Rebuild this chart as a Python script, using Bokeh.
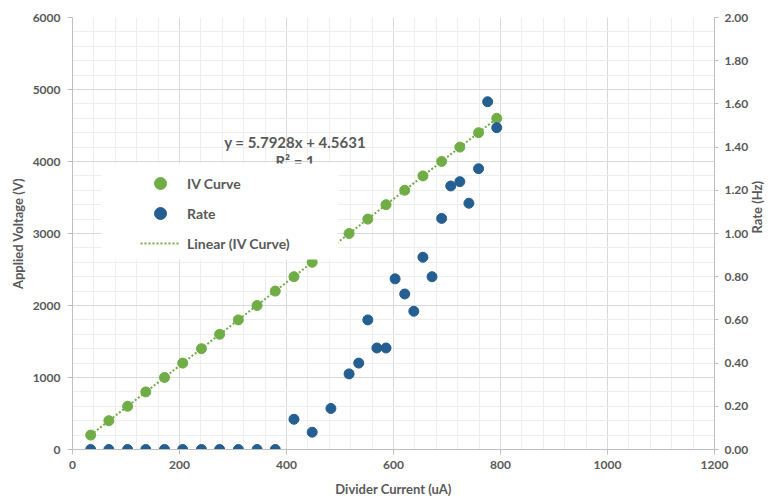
import math
from bokeh.plotting import figure
from bokeh.models import (Range1d, LinearAxis, SingleIntervalTicker, NumeralTickFormatter,
                          Label, BoxAnnotation, Legend, LegendItem)
from bokeh.embed import file_html
from bokeh.resources import INLINE

# ---- data ----
iv_current = [34, 68, 103, 137, 172, 206, 241, 275, 310, 345, 379, 414, 448, 483,
              517, 552, 586, 621, 655, 690, 724, 759, 793]
iv_voltage = [200, 400, 600, 800, 1000, 1200, 1400, 1600, 1800, 2000, 2200, 2400,
              2600, 2800, 3000, 3200, 3400, 3600, 3800, 4000, 4200, 4400, 4600]

rate_current = [34, 68, 103, 137, 172, 206, 241, 275, 310, 345, 379, 414, 448, 483,
                517, 535, 552, 569, 586, 603, 621, 638, 655, 672, 690, 707, 724,
                741, 759, 776, 793]
rate_hz = [0, 0, 0, 0, 0, 0, 0, 0, 0, 0, 0, 0.14, 0.08, 0.19,
           0.35, 0.40, 0.60, 0.47, 0.47, 0.79, 0.72, 0.64, 0.89, 0.80, 1.07, 1.22, 1.24,
           1.14, 1.30, 1.61, 1.49]

fit_slope = 5.7928
fit_intercept = 4.5631
equation_text = "y = 5.7928x + 4.5631"
r2_text = "R\u00b2 = 1"

GREEN = "#70AD47"
BLUE = "#255E91"
TXT = "#595959"
FONT = "Lato"

p = figure(width=776, height=499, output_backend="svg", toolbar_location=None,
           x_range=Range1d(0, 1200), y_range=Range1d(0, 6000),
           min_border_left=72, min_border_right=61, min_border_top=17, min_border_bottom=50)
p.outline_line_color = None
p.background_fill_color = "white"
p.extra_y_ranges = {"rate": Range1d(0, 2)}

left = p.yaxis[0]
bottom = p.xaxis[0]
left.ticker = SingleIntervalTicker(interval=1000, num_minor_ticks=5)
bottom.ticker = SingleIntervalTicker(interval=200, num_minor_ticks=5)
left.axis_label = "Applied Voltage (V)"
bottom.axis_label = "Divider Current (uA)"

right = LinearAxis(y_range_name="rate", ticker=SingleIntervalTicker(interval=0.2, num_minor_ticks=0),
                   formatter=NumeralTickFormatter(format="0.00"), axis_label="Rate (Hz)")
p.add_layout(right, "right")

for ax in [bottom, left, right]:
    ax.axis_line_color = "#BFBFBF"
    ax.major_tick_line_color = "#BFBFBF"
    ax.major_tick_out = 5
    ax.major_tick_in = 0
    ax.minor_tick_line_color = None
    ax.major_label_text_font = FONT
    ax.major_label_text_font_style = "bold"
    ax.major_label_text_font_size = "12px"
    ax.major_label_text_color = TXT
    ax.axis_label_text_font = FONT
    ax.axis_label_text_font_style = "bold"
    ax.axis_label_text_font_size = "13px"
    ax.axis_label_text_color = TXT
left.major_label_standoff = 7
left.axis_label_standoff = 4
bottom.major_label_standoff = 6
bottom.axis_label_standoff = 9
right.major_tick_out = 4
right.major_label_standoff = 6
right.axis_label_standoff = 6
if "axis_label_orientation" in right.properties():
    right.axis_label_orientation = math.pi / 2

# grids
for g in [p.xgrid[0], p.ygrid[0]]:
    g.grid_line_color = "#D9D9D9"
    g.minor_grid_line_color = "#EEEEEE"

# series
g_r = p.scatter(iv_current, iv_voltage, size=10, color=GREEN, line_color=GREEN)
b_r = p.scatter(rate_current, rate_hz, size=10, color=BLUE, line_color=BLUE, y_range_name="rate")
fit_x = [min(iv_current), max(iv_current)]
fit_y = [fit_slope * v + fit_intercept for v in fit_x]
l_r = p.line(fit_x, fit_y, line_color=GREEN, line_width=2, line_dash="2 2")

# trendline equation
p.add_layout(Label(x=416, y=4270, text=equation_text, text_align="center", text_baseline="middle",
                   text_font=FONT, text_font_style="bold", text_font_size="15px", text_color=TXT))
p.add_layout(Label(x=416, y=4010, text=r2_text, text_align="center", text_baseline="middle",
                   text_font=FONT, text_font_style="bold", text_font_size="15px", text_color=TXT))

# legend box
p.add_layout(BoxAnnotation(left=54, right=497, bottom=2639, top=3972,
                           fill_color="white", fill_alpha=1, line_color=None))

legend = Legend(items=[LegendItem(label="IV Curve", renderers=[g_r]),
                       LegendItem(label="Rate", renderers=[b_r]),
                       LegendItem(label="Linear (IV Curve)", renderers=[l_r])],
                location=(68, 191), padding=0, spacing=0, margin=0,
                glyph_width=40, glyph_height=30, label_height=30, label_standoff=7,
                background_fill_alpha=0, border_line_alpha=0,
                label_text_font=FONT, label_text_font_style="bold",
                label_text_font_size="14px", label_text_color=TXT)
p.add_layout(legend)

open("out.html", "w").write(file_html(p, INLINE))
